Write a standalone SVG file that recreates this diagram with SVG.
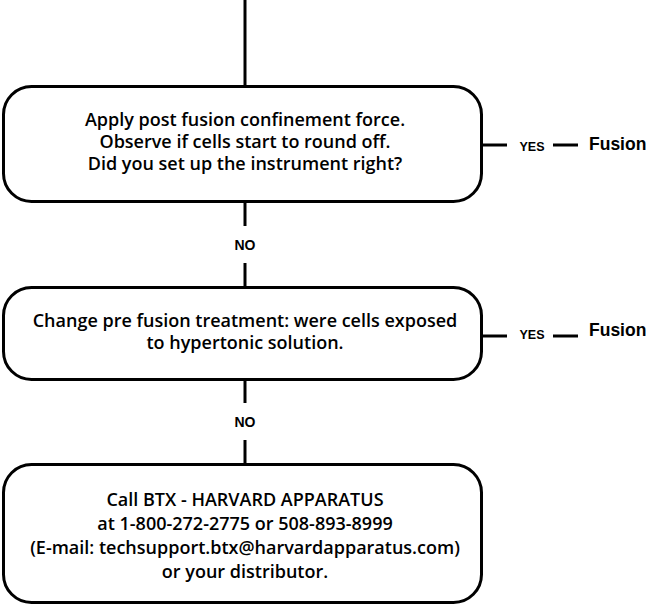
<svg xmlns="http://www.w3.org/2000/svg" width="647" height="608" viewBox="0 0 647 608">
<style>
.box{fill:#fff;stroke:#000;stroke-width:3}
.ln{stroke:#000;stroke-width:3;fill:none}
.t{font-family:"Open Sans","Liberation Sans",Arial,sans-serif;font-weight:600;font-size:18px;fill:#000;text-anchor:middle}
.lab{font-family:"Liberation Sans",Arial,sans-serif;font-weight:bold;fill:#000}
.no{font-size:14px;text-anchor:middle}
.yes{font-size:12.5px;text-anchor:middle}
.fu{font-size:17.5px}
</style>
<rect width="647" height="608" fill="#fff"/>
<g id="connectors">
<line class="ln" x1="245" y1="0" x2="245" y2="86"/>
<line class="ln" x1="245" y1="203" x2="245" y2="226"/>
<line class="ln" x1="245" y1="263" x2="245" y2="287"/>
<line class="ln" x1="245" y1="380" x2="245" y2="403"/>
<line class="ln" x1="245" y1="440" x2="245" y2="464"/>
<line class="ln" x1="482" y1="145" x2="507" y2="145"/>
<line class="ln" x1="553" y1="145" x2="578" y2="145"/>
<line class="ln" x1="482" y1="336" x2="507" y2="336"/>
<line class="ln" x1="553" y1="336" x2="578" y2="336"/>
<text class="lab no" x="245" y="250">NO</text>
<text class="lab no" x="245" y="427">NO</text>
<text class="lab yes" x="532" y="151">YES</text>
<text class="lab yes" x="532" y="339">YES</text>
</g>
<g id="node1">
<rect class="box" x="3.5" y="86.5" width="478" height="115" rx="28"/>
<text class="t" x="245" y="126">Apply post fusion confinement force.</text>
<text class="t" x="245" y="148">Observe if cells start to round off.</text>
<text class="t" x="245" y="170">Did you set up the instrument right?</text>
</g>
<g id="fusion1"><text class="lab fu" x="589" y="150">Fusion</text></g>
<g id="node2">
<rect class="box" x="3.5" y="287.5" width="478" height="92" rx="28"/>
<text class="t" x="245" y="327">Change pre fusion treatment: were cells exposed</text>
<text class="t" x="245" y="349">to hypertonic solution.</text>
</g>
<g id="fusion2"><text class="lab fu" x="589" y="336">Fusion</text></g>
<g id="node3">
<rect class="box" x="3.5" y="464.5" width="478" height="138" rx="28"/>
<text class="t" x="245" y="506">Call BTX - HARVARD APPARATUS</text>
<text class="t" x="245" y="530">at 1-800-272-2775 or 508-893-8999</text>
<text class="t" x="245" y="554">(E-mail: techsupport.btx@harvardapparatus.com)</text>
<text class="t" x="245" y="578">or your distributor.</text>
</g>
</svg>
